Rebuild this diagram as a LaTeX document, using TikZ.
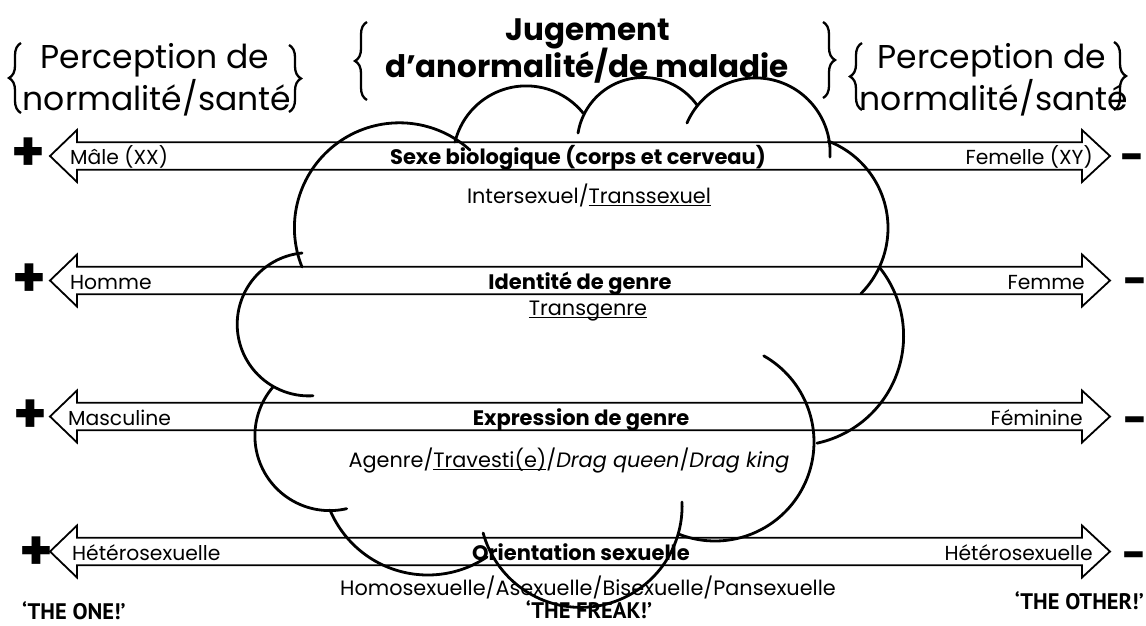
\documentclass[tikz,border=0pt]{standalone}
\usepackage{fontspec}
\setmainfont{Poppins}
\newfontfamily\condfont{PT Sans}
\usetikzlibrary{decorations.pathreplacing}
\newcommand{\myul}[1]{\sbox0{#1}\rlap{\rule[-3pt]{\wd0}{1.3pt}}\usebox0}
\newcommand{\dblarrow}[1]{\draw[arrowbody] (50,#1) -- (77,#1-26) -- (77,#1-13.7) -- (1082,#1-13.7) -- (1082,#1-26) -- (1110,#1) -- (1082,#1+26) -- (1082,#1+13.7) -- (77,#1+13.7) -- (77,#1+26) -- cycle;}
\newcommand{\cloudarc}[5]{\draw[cloudline] plot[domain=#4:#5,samples=70,variable=\t] ({#1+#3*cos(\t)},{#2+#3*sin(\t)});}
\begin{document}
\begin{tikzpicture}[x=1pt,y=-1pt,
  arrowbody/.style={draw=black,line width=1.8pt,fill=white,line join=miter},
  cloudline/.style={line width=2.8pt,line cap=round},
  bracestyle/.style={draw=black,line width=2.3pt,decorate,decoration={brace,amplitude=12pt}},
  side/.style={font=\fontsize{20.3}{24}\selectfont,inner sep=0pt},
  mid/.style={font=\fontsize{21}{24}\selectfont\bfseries,inner sep=0pt},
  sub/.style={font=\fontsize{20.8}{24}\selectfont,inner sep=0pt},
  title/.style={font=\fontsize{33}{38}\selectfont,inner sep=0pt},
  btitle/.style={font=\fontsize{31}{36}\selectfont\bfseries,inner sep=0pt},
  plussign/.style={font=\fontsize{54}{54}\selectfont\bfseries,inner sep=0pt},
  minussign/.style={font=\fontsize{42}{42}\selectfont\bfseries,inner sep=0pt},
  who/.style={font=\fontsize{22.5}{26}\selectfont\condfont\bfseries,inner sep=0pt}
]
\fill[white] (0,0) rectangle (1146,625);
\useasboundingbox (0,0) rectangle (1146,625);

% titles
\node[title,anchor=base] (lt1) at (155,68) {Perception de};
\node[title,anchor=base] (lt2) at (157,110) {normalité/santé};
\node[btitle,anchor=base] (ct1) at (588,40) {Jugement};
\node[btitle,anchor=base] (ct2) at (587,77) {d’anormalité/de maladie};
\node[title,anchor=base] (rt1) at (992,68) {Perception de};
\node[title,anchor=base] (rt2) at (994,110) {normalité/santé};
\draw[bracestyle] (21,113) -- (21,43);
\draw[bracestyle] (289,45) -- (289,112);
\draw[bracestyle] (367,100) -- (367,22);
\draw[bracestyle] (823,22) -- (823,98);
\draw[bracestyle] (862,110) -- (862,43);
\draw[bracestyle] (1114,42) -- (1114,110);

% arrows
\dblarrow{156}
\dblarrow{280.5}
\dblarrow{416.5}
\dblarrow{551.5}

% plus and minus
\node[plussign] (p1) at (28,154) {+};
\node[plussign] (p2) at (29,280) {+};
\node[plussign] (p3) at (30,416) {+};
\node[plussign] (p4) at (36,553) {+};
\node[minussign,anchor=base] (m1) at (1133,171) {-};
\node[minussign,anchor=base] (m2) at (1136,295) {-};
\node[minussign,anchor=base] (m3) at (1136,434) {-};
\node[minussign,anchor=base] (m4) at (1135,569) {-};

% arrow 1
\node[side,anchor=base west] (a1l) at (70,164) {Mâle (XX)};
\node[mid,anchor=base] (a1c) at (578,164) {Sexe biologique (corps et cerveau)};
\node[side,anchor=base east] (a1r) at (1093,164) {Femelle (XY)};
\node[sub,anchor=base] (a1s) at (589,203) {Intersexuel/\myul{Transsexuel}};
% arrow 2
\node[side,anchor=base west] (a2l) at (70,289) {Homme};
\node[mid,anchor=base] (a2c) at (580,289) {Identité de genre};
\node[side,anchor=base east] (a2r) at (1085,289) {Femme};
\node[sub,anchor=base] (a2s) at (588,315) {\myul{Transgenre}};
% arrow 3
\node[side,anchor=base west] (a3l) at (68,425) {Masculine};
\node[mid,anchor=base] (a3c) at (581,425) {Expression de genre};
\node[side,anchor=base east] (a3r) at (1083,425) {Féminine};
\node[sub,anchor=base] (a3s) at (569,467) {Agenre/\myul{Travesti(e)}/\textit{Drag queen}/\textit{Drag king}};
% arrow 4
\node[side,anchor=base west] (a4l) at (72,560) {Hétérosexuelle};
\node[mid,anchor=base] (a4c) at (581,560) {Orientation sexuelle};
\node[side,anchor=base east] (a4r) at (1093,560) {Hétérosexuelle};
\node[sub,anchor=base] (a4s) at (588,595) {Homosexuelle/Asexuelle/Bisexuelle/Pansexuelle};

\node[who,anchor=base west] (one) at (22,619) {‘THE ONE!’};
\node[who,anchor=base] (freak) at (589,618) {‘THE FREAK!’};
\node[who,anchor=base east] (other) at (1144,609) {‘THE OTHER!’};

% cloud
\cloudarc{399.4}{227.8}{105}{158.1}{312.2}
\cloudarc{526.2}{159.1}{73.2}{193.5}{320.9}
\cloudarc{643.3}{143.6}{66.1}{189.2}{324.3}
\cloudarc{755.5}{152.5}{74.6}{203.3}{363.5}
\cloudarc{795}{228}{93}{291}{405}
\cloudarc{794}{336}{109.6}{321.7}{437.9}
\cloudarc{715}{442}{99}{299.5}{471.7}
\cloudarc{580.8}{506.1}{101.3}{-2.3}{164.6}
\cloudarc{427.8}{468.9}{106.1}{56.1}{157.2}
\cloudarc{329.7}{435.8}{74.8}{76.9}{220.7}
\cloudarc{308.8}{324.3}{71.6}{86.6}{264.6}
\end{tikzpicture}
\end{document}
